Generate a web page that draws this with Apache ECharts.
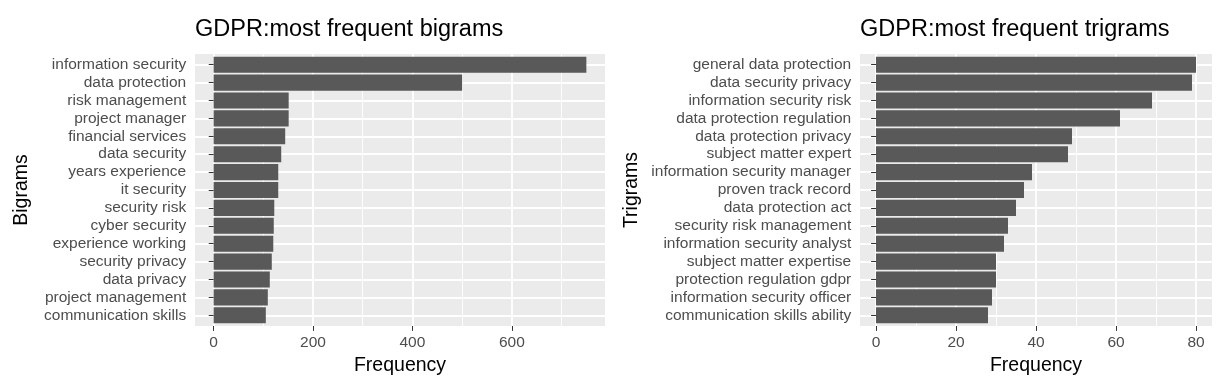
<!DOCTYPE html>
<html>
<head>
<meta charset="utf-8">
<script src="https://cdn.jsdelivr.net/npm/echarts@6/dist/echarts.min.js"></script>
<style>
  html, body { margin: 0; padding: 0; background: #ffffff; }
  #chart { width: 1226px; height: 390px; }
</style>
</head>
<body>
<div id="chart"></div>
<script>
// ---- Data ----
var bigrams = ["information security", "data protection", "risk management", "project manager",
  "financial services", "data security", "years experience", "it security", "security risk",
  "cyber security", "experience working", "security privacy", "data privacy",
  "project management", "communication skills"];
var bigramFreq = [750, 500, 151, 151, 144, 136, 130, 130, 122, 121, 120, 117, 113, 109, 105];

var trigrams = ["general data protection", "data security privacy", "information security risk",
  "data protection regulation", "data protection privacy", "subject matter expert",
  "information security manager", "proven track record", "data protection act",
  "security risk management", "information security analyst", "subject matter expertise",
  "protection regulation gdpr", "information security officer", "communication skills ability"];
var trigramFreq = [80, 79, 69, 61, 49, 48, 39, 37, 35, 33, 32, 30, 30, 29, 28];

var bigramTicks = [0, 200, 400, 600];
var bigramMinor = [100, 300, 500, 700];
var trigramTicks = [0, 20, 40, 60, 80];
var trigramMinor = [10, 30, 50, 70];

var titles = ["GDPR:most frequent bigrams", "GDPR:most frequent trigrams"];
var yTitles = ["Bigrams", "Trigrams"];
var xTitle = "Frequency";

// ---- Styling ----
var FONT = "'Liberation Sans', Arial, sans-serif";
var BAR = '#595959';
var PANEL = '#ebebeb';

function positions(arr) { return arr.map(function (_, i) { return i + 1; }); }

function renderBar(params, api) {
  var v = api.value(0), y = api.value(1);
  var p0 = api.coord([0, y]);
  var p1 = api.coord([v, y]);
  var h = api.size([0, 0.9])[1];
  return {
    type: 'rect',
    shape: { x: p0[0], y: p0[1] - h / 2, width: p1[0] - p0[0], height: h },
    style: { fill: BAR }
  };
}

function yAxisFor(idx, cats, name, gap) {
  var pos = positions(cats);
  return {
    type: 'value', gridIndex: idx, min: 0.4, max: cats.length + 0.6, inverse: true,
    axisLine: { show: false },
    axisTick: { show: true, customValues: pos, length: 4.9, lineStyle: { color: '#333333', width: 1 } },
    axisLabel: { customValues: pos, formatter: function (v) { return cats[Math.round(v) - 1] || ''; },
      margin: 8.8, color: '#4d4d4d', fontSize: 15.5, fontFamily: FONT },
    splitLine: { show: true, lineStyle: { color: '#ffffff', width: 1.8 } },
    name: name, nameLocation: 'middle', nameRotate: 90, nameGap: gap,
    nameTextStyle: { color: '#000000', fontSize: 19.5, fontFamily: FONT }
  };
}

function xAxisMajor(idx, min, max, ticks) {
  return {
    type: 'value', gridIndex: idx, min: min, max: max, position: 'bottom',
    axisLine: { show: false },
    axisTick: { show: true, customValues: ticks, length: 4.9, lineStyle: { color: '#333333', width: 1 } },
    axisLabel: { customValues: ticks, margin: 8.8, color: '#4d4d4d', fontSize: 15.5, fontFamily: FONT },
    splitLine: { show: true, lineStyle: { color: '#ffffff', width: 1.8 } },
    name: xTitle, nameLocation: 'middle', nameGap: 28,
    nameTextStyle: { color: '#000000', fontSize: 19.5, fontFamily: FONT }
  };
}

function xAxisMinor(idx, min, max, ticks) {
  return {
    type: 'value', gridIndex: idx, min: min, max: max, position: 'top',
    axisLine: { show: false },
    axisTick: { show: false, customValues: ticks },
    axisLabel: { show: false, customValues: ticks },
    splitLine: { show: true, lineStyle: { color: '#ffffff', width: 0.9 } }
  };
}

var chart = echarts.init(document.getElementById('chart'), null, { renderer: 'canvas' });
chart.setOption({
  backgroundColor: '#ffffff',
  animation: false,
  title: [
    { text: titles[0], left: 195, top: 18, padding: 0,
      textStyle: { fontSize: 23.5, fontWeight: 'normal', color: '#000000', fontFamily: FONT } },
    { text: titles[1], left: 860, top: 18, padding: 0,
      textStyle: { fontSize: 23.5, fontWeight: 'normal', color: '#000000', fontFamily: FONT } }
  ],
  grid: [
    { left: 195, top: 54, width: 410, height: 272, show: true, backgroundColor: PANEL, borderWidth: 0 },
    { left: 860, top: 54, width: 352, height: 272, show: true, backgroundColor: PANEL, borderWidth: 0 }
  ],
  xAxis: [
    xAxisMajor(0, -37.5, 787.5, bigramTicks),
    xAxisMinor(0, -37.5, 787.5, bigramMinor),
    xAxisMajor(1, -4, 84, trigramTicks),
    xAxisMinor(1, -4, 84, trigramMinor)
  ],
  yAxis: [
    yAxisFor(0, bigrams, yTitles[0], 163),
    yAxisFor(1, trigrams, yTitles[1], 218)
  ],
  series: [
    { type: 'custom', xAxisIndex: 0, yAxisIndex: 0, renderItem: renderBar,
      data: bigramFreq.map(function (v, i) { return [v, i + 1]; }) },
    { type: 'custom', xAxisIndex: 2, yAxisIndex: 1, renderItem: renderBar,
      data: trigramFreq.map(function (v, i) { return [v, i + 1]; }) }
  ]
});
</script>
</body>
</html>
